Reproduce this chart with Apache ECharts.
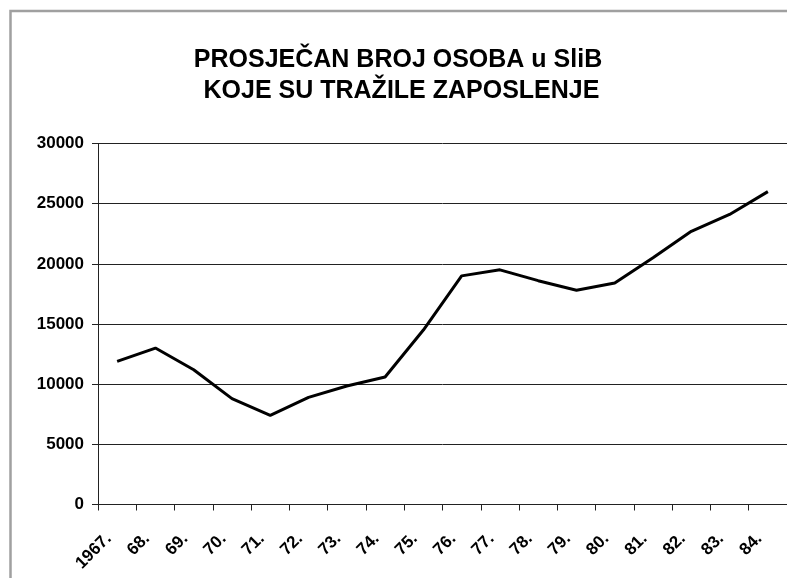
<!DOCTYPE html>
<html>
<head>
<meta charset="utf-8">
<script src="https://cdn.jsdelivr.net/npm/echarts@6/dist/echarts.min.js"></script>
<style>
  html, body { margin: 0; padding: 0; background: #fff; }
  #chart { width: 787px; height: 578px; }
</style>
</head>
<body>
<div id="chart"></div>
<script>
// godine (kategorije)
const years = ['1967.', '68.', '69.', '70.', '71.', '72.', '73.', '74.', '75.',
  '76.', '77.', '78.', '79.', '80.', '81.', '82.', '83.', '84.']
// prosječan broj osoba koje su tražile zaposlenje
const seekers = [11900, 13000, 11200, 8800, 7400, 8900, 9850, 10600, 14500,
  19000, 19500, 18600, 17800, 18400, 20500, 22700, 24100, 26000]
const yTicks = [0, 5000, 10000, 15000, 20000, 25000, 30000]

const chart = echarts.init(document.getElementById('chart'))

const option = {
  backgroundColor: '#fff',
  animation: false,
  title: {
    text: 'PROSJEČAN BROJ OSOBA u SliB\n KOJE SU TRAŽILE ZAPOSLENJE',
    left: 393,
    top: 40,
    textAlign: 'center',
    textStyle: {
      fontFamily: 'Liberation Sans, Arial, sans-serif',
      fontSize: 25,
      fontWeight: 'bold',
      color: '#000',
      lineHeight: 31
    }
  },
  graphic: [
    {
      type: 'rect',
      shape: { x: 10.5, y: 11, width: 900, height: 700 },
      style: { fill: 'none', stroke: '#a0a0a0', lineWidth: 2.5 },
      silent: true
    }
  ],
  grid: {
    left: 98,
    top: 143.5,
    width: 694,
    height: 361
  },
  xAxis: {
    type: 'category',
    data: years,
    boundaryGap: true,
    axisLine: { lineStyle: { color: '#222', width: 1 } },
    axisTick: { show: true, length: 6, lineStyle: { color: '#222' } },
    axisLabel: {
      interval: 0,
      rotate: 45,
      margin: 23,
      padding: [0, 12, 0, 0],
      fontFamily: 'Liberation Sans, Arial, sans-serif',
      fontSize: 17,
      fontWeight: 'bold',
      color: '#000'
    }
  },
  yAxis: {
    type: 'value',
    min: yTicks[0],
    max: yTicks[yTicks.length - 1],
    interval: 5000,
    axisLine: { show: true, lineStyle: { color: '#222', width: 1 } },
    axisTick: { show: true, length: 6, lineStyle: { color: '#222' } },
    splitLine: { show: true, lineStyle: { color: '#222', width: 1 } },
    axisLabel: {
      margin: 14,
      formatter: v => String(v),
      fontFamily: 'Liberation Sans, Arial, sans-serif',
      fontSize: 17,
      fontWeight: 'bold',
      color: '#000'
    }
  },
  series: [
    {
      type: 'line',
      data: seekers,
      symbol: 'none',
      lineStyle: { color: '#000', width: 3 }
    }
  ]
}

chart.setOption(option)
</script>
</body>
</html>
